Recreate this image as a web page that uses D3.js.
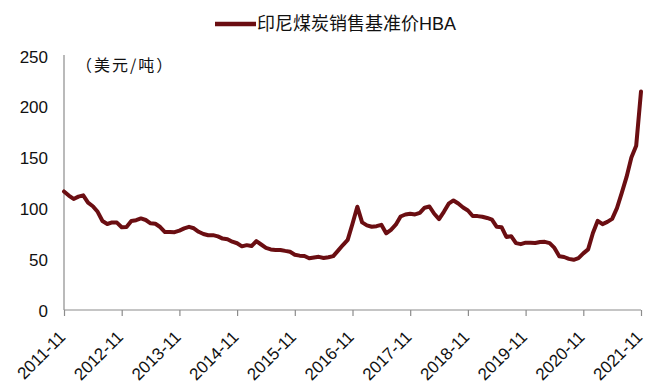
<!DOCTYPE html>
<html>
<head>
<meta charset="utf-8">
<script src="https://cdn.jsdelivr.net/npm/d3@7"></script>
<style>
  html, body { margin: 0; padding: 0; background: #fff; }
  svg { display: block; font-family: "Liberation Sans", Arial, "Noto Sans CJK SC", sans-serif; }
</style>
</head>
<body>
<div id="chart"></div>
<script>
// ---- Data (monthly, 2011-11 .. 2021-11, USD/ton) ----
const seriesName = "印尼煤炭销售基准价HBA";
const unitLabel = "（美元/吨）";
const hba = [
  116.65, 112.67,
  109.29, 111.58, 112.87, 105.61, 102.12, 96.65, 87.56, 84.65, 86.21, 86.04, 81.44, 81.75,
  87.55, 88.35, 90.09, 88.56, 85.33, 84.87, 81.69, 76.70, 76.89, 76.61, 78.13, 80.31,
  81.90, 80.44, 77.01, 74.81, 73.60, 73.64, 72.45, 70.29, 69.69, 67.26, 65.70, 62.65,
  63.84, 62.92, 67.76, 64.48, 61.08, 59.59, 59.16, 59.14, 58.21, 57.39, 54.43, 53.51,
  53.20, 50.92, 51.62, 52.32, 51.20, 51.87, 53.00, 58.37, 63.93, 69.07, 84.89, 101.69,
  86.23, 83.32, 81.90, 82.51, 83.81, 75.46, 78.95, 83.97, 92.03, 93.99, 94.80, 94.04,
  95.54, 100.69, 101.86, 94.75, 89.53, 96.61, 104.65, 107.83, 104.81, 100.89, 97.90, 92.51,
  92.41, 91.80, 90.57, 88.85, 81.86, 81.48, 71.92, 72.67, 65.79, 64.80, 66.27, 66.30,
  65.93, 66.89, 67.08, 65.77, 61.11, 52.98, 52.16, 50.34, 49.42, 51.00, 55.71, 59.65,
  75.84, 87.79, 84.47, 86.68, 89.74, 100.33, 115.35, 130.99, 150.03, 161.63, 215.01
];
const xTickIdx = [0, 12, 24, 36, 48, 60, 72, 84, 96, 108, 120];
const xTickLabels = ["2011-11","2012-11","2013-11","2014-11","2015-11","2016-11","2017-11","2018-11","2019-11","2020-11","2021-11"];
const yTicks = [0, 50, 100, 150, 200, 250];

(function () {
  // ---- Layout ----
  const W = 664, H = 392;
  const mL = 64, mR = 641, mT = 56, mB = 310;
  const lineColor = "#6B0E12";
  const axisColor = "#8c8c8c";

  const svg = d3.select("#chart").append("svg").attr("width", W).attr("height", H);

  const x = d3.scaleLinear().domain([0, hba.length - 1]).range([mL, mR]);
  const y = d3.scaleLinear().domain([0, 250]).range([mB, mT]);

  // Y axis
  const yAxis = svg.append("g").attr("transform", `translate(${mL},0)`)
    .call(d3.axisLeft(y).tickValues(yTicks).tickSize(0).tickPadding(16).tickFormat(d3.format("d")));
  yAxis.select(".domain").attr("stroke", axisColor).attr("stroke-width", 1.2).attr("d", `M0,${mT - 1}V${mB}`);
  yAxis.selectAll("text").attr("font-size", 17).attr("fill", "#111").attr("dy", "0.36em");

  // X axis
  const xAxis = svg.append("g").attr("transform", `translate(0,${mB})`)
    .call(d3.axisBottom(x).tickValues(xTickIdx).tickSize(6).tickFormat((d, i) => xTickLabels[i]));
  xAxis.select(".domain").attr("stroke", axisColor).attr("stroke-width", 1.2).attr("d", `M${mL},0H${mR}`);
  xAxis.selectAll(".tick line").attr("stroke", axisColor).attr("stroke-width", 1.2);
  xAxis.selectAll("text")
    .attr("font-size", 17).attr("fill", "#111")
    .attr("text-anchor", "end")
    .attr("x", 0).attr("y", 0).attr("dy", 0)
    .attr("transform", "translate(2,28) rotate(-45)");

  // Unit label
  svg.append("text").attr("x", 76).attr("y", 71)
    .attr("font-size", 16).attr("fill", "#111")
    .attr("letter-spacing", 2)
    .attr("font-family", "'Noto Sans CJK SC', sans-serif")
    .text(unitLabel);

  // Line
  const line = d3.line().x((d, i) => x(i)).y(d => y(d)).curve(d3.curveLinear);
  svg.append("path").datum(hba)
    .attr("fill", "none").attr("stroke", lineColor).attr("stroke-width", 4)
    .attr("stroke-linejoin", "round").attr("stroke-linecap", "round")
    .attr("d", line);

  // Legend
  const lg = svg.append("g");
  lg.append("line").attr("x1", 215).attr("x2", 256).attr("y1", 24).attr("y2", 24)
    .attr("stroke", lineColor).attr("stroke-width", 4.5);
  lg.append("text").attr("x", 257).attr("y", 24).attr("dy", "0.36em")
    .attr("font-size", 18).attr("fill", "#111")
    .text(seriesName);
})();
</script>
</body>
</html>
